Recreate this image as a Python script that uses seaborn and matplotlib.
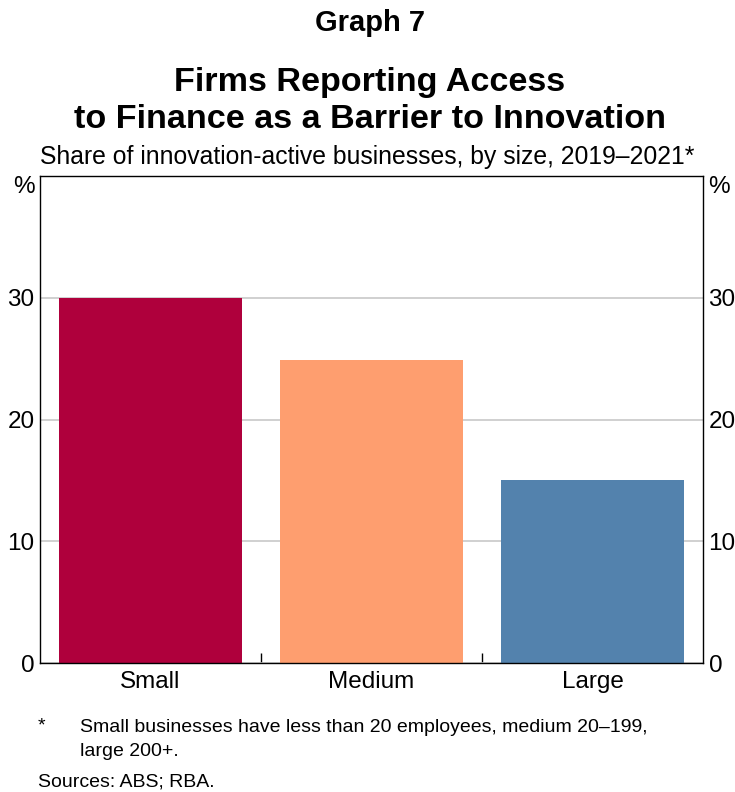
import matplotlib
matplotlib.use("Agg")
import matplotlib.pyplot as plt
import seaborn as sns
import pandas as pd
from matplotlib.ticker import FixedLocator, NullFormatter

# Data
categories = ["Small", "Medium", "Large"]
shares = [30.0, 24.9, 15.0]
bar_colors = ["#AF003C", "#FE9E6F", "#5382AD"]
y_ticks = [0, 10, 20, 30]

sns.set_theme(style="white")
plt.rcParams["font.family"] = ["Liberation Sans", "DejaVu Sans"]
plt.rcParams["text.color"] = "black"

df = pd.DataFrame({"size": categories, "share": shares})

fig = plt.figure(figsize=(7.35, 7.92), dpi=100)
ax = fig.add_axes([40 / 735, 1 - 663 / 792, 663 / 735, (663 - 176) / 792])

sns.barplot(data=df, x="size", y="share", hue="size", palette=bar_colors,
            width=0.83, legend=False, ax=ax, saturation=1, linewidth=0,
            edgecolor="none")

ax.set_ylim(0, 40)
ax.set_xlim(-0.5, 2.5)
ax.set_yticks(y_ticks)
ax.yaxis.grid(True, color="#C8C8C8", linewidth=1.2)
ax.set_axisbelow(True)
ax.set_xlabel("")
ax.set_ylabel("")

for side in ["left", "right", "top", "bottom"]:
    ax.spines[side].set_visible(True)
    ax.spines[side].set_color("black")
    ax.spines[side].set_linewidth(1.0)

ax.tick_params(axis="y", which="both", length=0, labelsize=17.5, pad=4,
               labelright=True, right=False, labelcolor="black")
ax.tick_params(axis="x", which="major", length=0, labelsize=17.5, pad=6,
               labelcolor="black")
ax.xaxis.set_minor_locator(FixedLocator([0.5, 1.5]))
ax.xaxis.set_minor_formatter(NullFormatter())
ax.tick_params(axis="x", which="minor", direction="in", length=7,
               width=1, color="black", bottom=True)

# Unit labels
ax.text(-0.008, 0.977, "%", transform=ax.transAxes, ha="right", va="center",
        fontsize=17.5)
ax.text(1.008, 0.977, "%", transform=ax.transAxes, ha="left", va="center",
        fontsize=17.5)

# Titles
fig.text(370 / 735, 1 - 23 / 792, "Graph 7", ha="center", va="center",
         fontsize=21, fontweight="bold")
fig.text(370 / 735, 1 - 82 / 792, "Firms Reporting Access", ha="center",
         va="center", fontsize=24.6, fontweight="bold")
fig.text(370 / 735, 1 - 120 / 792, "to Finance as a Barrier to Innovation",
         ha="center", va="center", fontsize=24.6, fontweight="bold")
fig.text(367 / 735, 1 - 157 / 792,
         "Share of innovation-active businesses, by size, 2019\u20132021*",
         ha="center", va="center", fontsize=17.8)

# Notes
fig.text(38 / 735, 1 - 726 / 792, "*", ha="left", va="center", fontsize=14)
fig.text(80 / 735, 1 - 728 / 792,
         "Small businesses have less than 20 employees, medium 20\u2013199,",
         ha="left", va="center", fontsize=14.0)
fig.text(80 / 735, 1 - 752 / 792, "large 200+.", ha="left", va="center",
         fontsize=14.0)
fig.text(38 / 735, 1 - 782 / 792, "Sources: ABS; RBA.", ha="left",
         va="center", fontsize=14.0)

fig.savefig("out.png", dpi=100)
